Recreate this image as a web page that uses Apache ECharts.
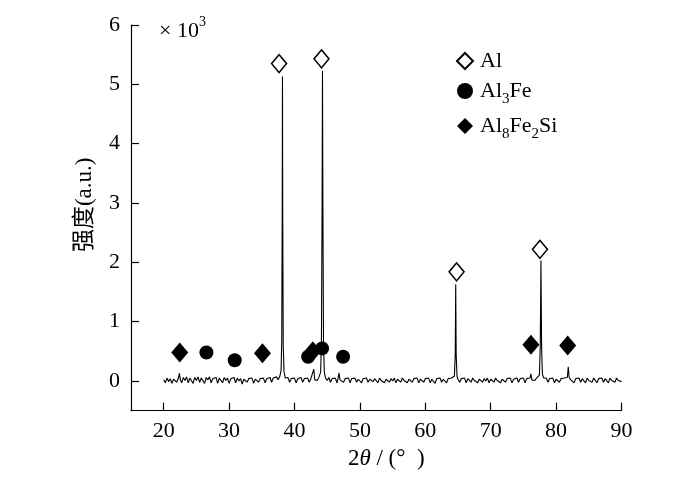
<!DOCTYPE html>
<html>
<head>
<meta charset="utf-8">
<script src="https://cdn.jsdelivr.net/npm/echarts@6/dist/echarts.min.js"></script>
<style>
html,body{margin:0;padding:0;background:#fff;}
#chart{width:700px;height:481px;}
</style>
</head>
<body>
<div id="chart"></div>
<script>
// XRD pattern, intensity in units of 10^3
var pattern = [
[20.0,0.02],[20.25,-0.03],[20.5,0.05],[20.75,-0.01],[21.0,0.04],[21.25,-0.04],[21.5,0.03],[21.75,0.06],
[22.0,-0.02],[22.25,0.05],[22.4,0.13],[22.55,0.02],[22.75,-0.03],[23.0,0.06],[23.25,0.01],[23.5,0.07],
[23.75,-0.03],[24.0,0.05],[24.25,0.02],[24.5,-0.04],[24.75,0.06],[25.0,0.01],[25.25,0.07],[25.5,-0.02],
[25.75,0.05],[26.0,0.03],[26.25,-0.04],[26.5,0.06],[26.75,0.02],[27.0,0.07],[27.25,-0.03],[27.5,0.04],
[27.75,0.01],[28.0,0.06],[28.25,-0.04],[28.5,0.05],[28.75,0.02],[29.0,-0.03],[29.25,0.06],[29.5,0.01],
[29.75,0.05],[30.0,-0.04],[30.25,0.04],[30.5,0.02],[30.75,0.06],[31.0,-0.03],[31.25,0.05],[31.5,0.0],
[31.75,0.04],[32.0,-0.05],[32.25,0.03],[32.5,0.06],[32.75,-0.02],[33.0,0.04],[33.25,0.01],[33.5,0.05],
[33.75,-0.04],[34.0,0.03],[34.25,0.06],[34.5,-0.02],[34.75,0.04],[35.0,0.01],[35.25,0.05],[35.5,-0.03],
[35.75,0.04],[36.0,0.02],[36.25,0.06],[36.5,-0.02],[36.75,0.05],[37.0,0.03],[37.25,0.07],[37.5,0.02],
[37.75,0.08],[37.95,0.18],[38.05,0.7],[38.12,2.8],[38.16,5.13],[38.2,2.8],[38.28,0.6],[38.4,0.15],
[38.6,0.05],[38.8,0.02],[39.0,0.06],[39.25,-0.02],[39.5,0.04],[39.75,0.01],[40.0,0.05],[40.25,-0.03],
[40.5,0.04],[40.75,0.02],[41.0,0.06],[41.25,-0.02],[41.5,0.04],[41.75,0.01],[42.0,0.05],[42.25,-0.02],
[42.5,0.04],[42.8,0.03],[42.95,0.2],[43.1,0.02],[43.3,0.05],[43.5,0.01],[43.75,0.07],[44.0,0.15],
[44.12,0.7],[44.22,3.0],[44.28,5.23],[44.34,3.0],[44.44,0.6],[44.56,0.15],[44.75,0.05],[45.0,0.01],
[45.25,0.06],[45.5,-0.02],[45.75,0.04],[46.0,0.01],[46.25,0.05],[46.5,-0.03],[46.65,0.04],[46.8,0.14],
[46.95,0.02],[47.25,0.05],[47.5,-0.02],[47.75,0.04],[48.0,0.02],[48.25,0.05],[48.5,-0.03],[48.75,0.04],
[49.0,0.01],[49.25,0.05],[49.5,-0.02],[49.75,0.03],[50.0,0.05],[50.25,-0.03],[50.5,0.04],[50.75,0.01],
[51.0,0.05],[51.25,-0.02],[51.5,0.03],[51.75,0.06],[52.0,-0.01],[52.25,0.04],[52.5,0.02],[52.75,-0.03],
[53.0,0.05],[53.25,0.01],[53.5,0.04],[53.75,-0.03],[54.0,0.03],[54.25,0.05],[54.5,-0.02],[54.75,0.04],
[55.0,0.0],[55.25,0.05],[55.5,-0.03],[55.75,0.03],[56.0,0.04],[56.25,-0.02],[56.5,0.05],[56.75,0.01],
[57.0,0.04],[57.25,-0.03],[57.5,0.03],[57.75,0.05],[58.0,-0.02],[58.25,0.04],[58.5,0.01],[58.75,0.05],
[59.0,-0.03],[59.25,0.03],[59.5,0.04],[59.75,-0.02],[60.0,0.04],[60.25,0.01],[60.5,0.05],[60.75,-0.03],
[61.0,0.03],[61.25,0.02],[61.5,-0.04],[61.75,0.04],[62.0,0.01],[62.25,0.05],[62.5,-0.02],[62.75,0.03],
[63.0,0.04],[63.25,-0.03],[63.5,0.04],[63.75,0.01],[64.0,0.05],[64.25,0.02],[64.45,0.08],[64.58,0.45],
[64.65,1.63],[64.72,0.45],[64.85,0.08],[65.0,0.03],[65.25,-0.02],[65.5,0.04],[65.75,0.01],[66.0,0.05],
[66.25,-0.03],[66.5,0.04],[66.75,0.02],[67.0,-0.02],[67.25,0.05],[67.5,0.01],[67.75,0.04],[68.0,-0.03],
[68.25,0.03],[68.5,0.05],[68.75,-0.02],[69.0,0.04],[69.25,0.0],[69.5,0.05],[69.75,-0.03],[70.0,0.03],
[70.25,0.04],[70.5,-0.02],[70.75,0.05],[71.0,0.01],[71.25,0.04],[71.5,-0.03],[71.75,0.03],[72.0,0.05],
[72.25,-0.02],[72.5,0.04],[72.75,0.01],[73.0,0.05],[73.25,-0.03],[73.5,0.03],[73.75,0.02],[74.0,0.05],
[74.25,-0.02],[74.5,0.04],[74.75,0.01],[75.0,0.05],[75.25,-0.03],[75.5,0.04],[75.75,0.02],[76.0,0.05],
[76.15,0.12],[76.3,0.02],[76.5,0.04],[76.75,0.01],[77.0,0.05],[77.25,0.03],[77.45,0.1],[77.58,0.6],
[77.68,2.03],[77.78,0.6],[77.9,0.12],[78.1,0.05],[78.3,0.02],[78.5,0.05],[78.75,-0.02],[79.0,0.04],
[79.25,0.01],[79.5,0.05],[79.75,-0.03],[80.0,0.03],[80.25,0.05],[80.5,-0.02],[80.75,0.04],[81.0,0.01],
[81.25,0.05],[81.5,0.02],[81.72,0.06],[81.86,0.24],[82.0,0.06],[82.25,0.02],[82.5,0.05],[82.75,-0.03],
[83.0,0.04],[83.25,0.01],[83.5,0.05],[83.75,-0.02],[84.0,0.04],[84.25,0.02],[84.5,-0.03],[84.75,0.05],
[85.0,0.01],[85.25,0.04],[85.5,-0.02],[85.75,0.05],[86.0,0.02],[86.25,-0.03],[86.5,0.04],[86.75,0.01],
[87.0,0.05],[87.25,-0.02],[87.5,0.04],[87.75,0.02],[88.0,-0.03],[88.25,0.05],[88.5,0.01],[88.75,0.04],
[89.0,-0.02],[89.25,0.05],[89.5,0.01],[89.75,0.04],[90.0,-0.01]
];
var alMarks = [[37.64,5.35],[44.13,5.43],[64.78,1.84],[77.53,2.22]];
var al3feMarks = [[26.53,0.48],[30.86,0.35],[42.08,0.41],[44.22,0.55],[47.43,0.41]];
var al8fe2siMarks = [[22.45,0.48],[35.1,0.47],[42.8,0.5],[76.15,0.61],[81.77,0.6]];
var xTicks = [20,30,40,50,60,70,80,90];
var yTicks = [0,1,2,3,4,5,6];
var legendNames = ['Al','Al3Fe','Al8Fe2Si'];

var SERIF = '"Liberation Serif","Times New Roman",serif';
var CJK = '"Liberation Serif","Noto Sans CJK SC",serif';

var chart = echarts.init(document.getElementById('chart'));
var legendRich = {
  sp: {width: 2, fontSize: 20, fontFamily: SERIF},
  a: {fontSize: 22, fontFamily: SERIF, color: '#000', lineHeight: 26, verticalAlign: 'middle'},
  s: {fontSize: 15, fontFamily: SERIF, color: '#000', lineHeight: 15, verticalAlign: 'bottom', padding: [0,0,-3,0]}
};
chart.setOption({
  animation: false,
  backgroundColor: '#fff',
  grid: {left: 131, right: 78.5, top: 25, bottom: 70.3, containLabel: false},
  xAxis: {
    type: 'value', min: 15, max: 90,
    name: '{n|2}{i|θ}{n| / (°  )}',
    nameLocation: 'middle', nameGap: 37,
    nameTextStyle: {padding: [0,0,0,20], rich: {
      n: {fontSize: 23, fontFamily: SERIF, color: '#000'},
      i: {fontSize: 23, fontFamily: SERIF, fontStyle: 'italic', color: '#000'}
    }},
    axisLine: {onZero: false, lineStyle: {color: '#000', width: 1.2}},
    axisTick: {inside: true, length: 8, customValues: xTicks, lineStyle: {color: '#000', width: 1.2}},
    axisLabel: {customValues: xTicks, margin: 10, fontSize: 22, fontFamily: SERIF, color: '#000'},
    splitLine: {show: false}
  },
  yAxis: {
    type: 'value', min: -0.5, max: 6,
    name: '强度(a.u.)',
    nameLocation: 'middle', nameRotate: 90, nameGap: 35,
    nameTextStyle: {fontSize: 23, fontFamily: CJK, color: '#000', padding: [0,0,0,26]},
    axisLine: {onZero: false, lineStyle: {color: '#000', width: 1.2}},
    axisTick: {inside: true, length: 8, customValues: yTicks, lineStyle: {color: '#000', width: 1.2}},
    axisLabel: {customValues: yTicks, margin: 11, fontSize: 22, fontFamily: SERIF, color: '#000'},
    splitLine: {show: false}
  },
  legend: {
    orient: 'vertical', left: 451, top: 45, itemGap: 8,
    itemWidth: 16, itemHeight: 16,
    data: legendNames,
    formatter: function (name) {
      if (name === 'Al') return '{sp|}{a|Al}';
      if (name === 'Al3Fe') return '{sp|}{a|Al}{s|3}{a|Fe}';
      return '{sp|}{a|Al}{s|8}{a|Fe}{s|2}{a|Si}';
    },
    textStyle: {rich: legendRich, color: '#000'}
  },
  graphic: [{
    type: 'text', left: 159, top: 15,
    style: {
      text: '{a|× 10}{s|3}',
      rich: {
        a: {fontSize: 22, fontFamily: SERIF, fill: '#000', lineHeight: 27, verticalAlign: 'bottom'},
        s: {fontSize: 14, fontFamily: SERIF, fill: '#000', lineHeight: 14, verticalAlign: 'top'}
      }
    }
  }],
  series: [
    {
      type: 'line', name: 'pattern', data: pattern, showSymbol: false, symbol: 'none',
      lineStyle: {color: '#000', width: 1.1}, z: 1
    },
    {
      type: 'scatter', name: 'Al', data: alMarks, symbol: 'diamond', symbolSize: [15, 18],
      itemStyle: {color: '#fff', borderColor: '#000', borderWidth: 1.5, opacity: 1}, z: 3
    },
    {
      type: 'scatter', name: 'Al3Fe', data: al3feMarks, symbol: 'circle', symbolSize: 14,
      itemStyle: {color: '#000', opacity: 1}, z: 3
    },
    {
      type: 'scatter', name: 'Al8Fe2Si', data: al8fe2siMarks, symbol: 'diamond', symbolSize: [17, 20],
      itemStyle: {color: '#000', opacity: 1}, z: 2
    }
  ]
});
</script>
</body>
</html>
